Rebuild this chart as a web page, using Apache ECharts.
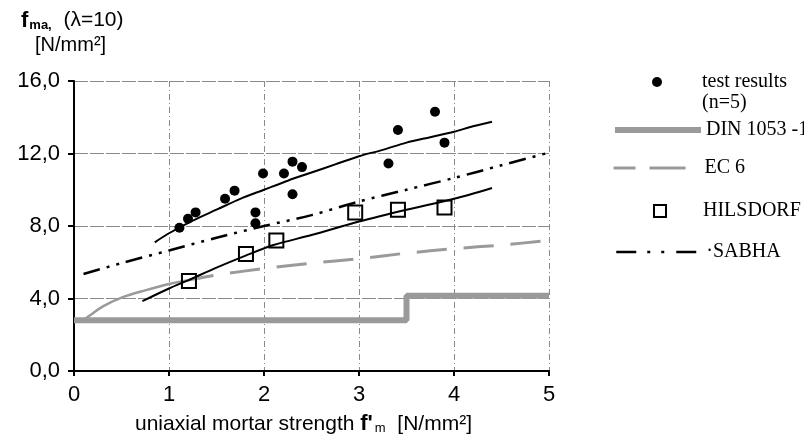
<!DOCTYPE html>
<html>
<head>
<meta charset="utf-8">
<script src="https://cdn.jsdelivr.net/npm/echarts@6/dist/echarts.min.js"></script>
<style>
  html, body { margin: 0; padding: 0; background: #fff; }
  #chart { width: 804px; height: 440px; }
</style>
</head>
<body>
<div id="chart"></div>
<script>
// test results (n=5)
const testX = [1.11, 1.20, 1.28, 1.59, 1.69, 1.91, 1.91, 1.99, 2.21, 2.30, 2.40, 2.30, 3.31, 3.41, 3.80, 3.90]
const testY = [7.9, 8.4, 8.75, 9.5, 9.95, 8.75, 8.15, 10.9, 10.9, 11.55, 11.25, 9.75, 11.45, 13.3, 14.3, 12.6]

// regression curve through test results
const fitTestX = [0.85, 1.0, 1.25, 1.5, 1.75, 2.0, 2.25, 2.5, 2.75, 3.0, 3.25, 3.5, 3.75, 4.0, 4.2, 4.4]
const fitTestY = [7.1, 7.6, 8.3, 8.9, 9.5, 10.0, 10.5, 10.95, 11.4, 11.85, 12.2, 12.6, 12.9, 13.2, 13.5, 13.75]

// HILSDORF
const hilsX = [1.21, 1.81, 2.13, 2.96, 3.41, 3.90]
const hilsY = [4.97, 6.45, 7.2, 8.75, 8.9, 9.02]
const fitHilsX = [0.72, 1.0, 1.2, 1.5, 1.8, 2.1, 2.5, 3.0, 3.5, 4.0, 4.4]
const fitHilsY = [3.85, 4.55, 5.0, 5.7, 6.35, 6.95, 7.5, 8.25, 8.9, 9.5, 10.1]

// DIN 1053 -1
const dinX = [0, 3.5, 3.5, 5.0]
const dinY = [2.8, 2.8, 4.15, 4.15]

// EC 6
const ecX = [0.1, 0.15, 0.3, 0.5, 0.75, 1.0, 1.3]
const ecY = [2.8, 3.0, 3.55, 4.05, 4.45, 4.8, 5.1]
const ecDashX = [1.3, 1.5, 2.0, 2.5, 3.0, 3.5, 4.0, 4.5, 5.0]
const ecDashY = [5.1, 5.3, 5.65, 5.95, 6.2, 6.5, 6.75, 6.95, 7.2]

// SABHA
const sabhaX = [0.1, 0.5, 1.0, 1.5, 2.0, 2.5, 3.0, 3.5, 4.0, 4.5, 5.0]
const sabhaY = [5.35, 5.95, 6.65, 7.35, 8.0, 8.6, 9.35, 10.0, 10.65, 11.35, 12.05]

const xTicks = [0, 1, 2, 3, 4, 5]
const yTicks = [0, 4, 8, 12, 16]

const zip = (xs, ys) => xs.map((x, i) => [x, ys[i]])

const sans = 'Liberation Sans'
const serif = 'Liberation Serif'
const gray = '#9a9a9a'
const sabhaDash = [17, 7, 3, 7, 3, 7]

const legendText = { fontFamily: serif, fontSize: 20, color: '#000' }
const noSymbol = { opacity: 0 }

const chart = echarts.init(document.getElementById('chart'))
chart.setOption({
  animation: false,
  backgroundColor: '#fff',
  title: [
    {
      left: 16, top: 4,
      text: '{b|f}{s|ma,}  (λ=10)',
      textStyle: {
        fontFamily: sans, fontSize: 21, color: '#000', fontWeight: 'normal',
        rich: {
          b: { fontFamily: sans, fontSize: 22, fontWeight: 'bold', color: '#000' },
          s: { fontFamily: sans, fontSize: 13, fontWeight: 'bold', color: '#000', padding: [10, 0, 0, 1] }
        }
      }
    },
    {
      left: 30, top: 30,
      text: '[N/mm²]',
      textStyle: { fontFamily: sans, fontSize: 20, color: '#000', fontWeight: 'normal' }
    }
  ],
  graphic: [
    { type: 'text', left: 702, top: 93, style: { text: '(n=5)', font: '20px "Liberation Serif"', fill: '#000' } }
  ],
  legend: [
    {
      left: 652, top: 72, padding: 0, itemWidth: 10, itemHeight: 10,
      data: [{ name: 'test results', icon: 'circle' }],
      textStyle: Object.assign({ padding: [0, 0, 0, 35] }, legendText)
    },
    {
      left: 612, top: 120, padding: 0, itemWidth: 86, itemHeight: 6,
      data: [{ name: 'DIN 1053 -1', itemStyle: noSymbol, lineStyle: { color: gray, width: 6 } }],
      textStyle: legendText
    },
    {
      left: 612, top: 158, padding: 0, itemWidth: 86, itemHeight: 6,
      data: [{ name: 'EC 6', itemStyle: noSymbol, lineStyle: { color: gray, width: 3, type: [36, 14] } }],
      textStyle: legendText
    },
    {
      left: 653, top: 201, padding: 0, itemWidth: 12, itemHeight: 12,
      data: [{ name: 'HILSDORF', icon: 'rect' }],
      textStyle: Object.assign({ padding: [0, 0, 0, 32] }, legendText)
    },
    {
      left: 614, top: 242, padding: 0, itemWidth: 86, itemHeight: 6,
      data: [{ name: 'SABHA', itemStyle: noSymbol, lineStyle: { color: '#000', width: 2.5, type: [3, 12, 20, 11, 3, 11] } }],
      formatter: '·{name}',
      textStyle: legendText
    }
  ],
  grid: { left: 74, right: 255, top: 81, bottom: 67 },
  xAxis: {
    type: 'value',
    min: 0, max: 5, interval: 1,
    name: 'uniaxial mortar strength {b|f\'}{s|m}  [N/mm²]',
    nameLocation: 'middle',
    nameGap: 42,
    nameTextStyle: {
      fontFamily: sans, fontSize: 21, color: '#000', padding: [0, 16, 0, 0],
      rich: {
        b: { fontFamily: sans, fontSize: 22, fontWeight: 'bold', color: '#000' },
        s: { fontFamily: sans, fontSize: 13, color: '#000', padding: [8, 0, 0, 2] }
      }
    },
    axisLine: { lineStyle: { color: '#000', width: 2 } },
    axisTick: { length: 5, lineStyle: { color: '#000', width: 2 } },
    axisLabel: {
      fontFamily: sans, fontSize: 22, color: '#000', margin: 13,
      customValues: xTicks
    },
    splitLine: { show: true, lineStyle: { color: '#8a8a8a', width: 1, type: [6, 3, 1, 3] } }
  },
  yAxis: {
    type: 'value',
    min: 0, max: 16, interval: 4,
    axisLine: { show: true, lineStyle: { color: '#000', width: 2 } },
    axisTick: { show: true, length: 6, lineStyle: { color: '#000', width: 2 } },
    axisLabel: {
      fontFamily: sans, fontSize: 22, color: '#000', margin: 14,
      customValues: yTicks,
      formatter: v => v.toFixed(1).replace('.', ',')
    },
    splitLine: { show: true, lineStyle: { color: '#8a8a8a', width: 1, type: [14, 2] } }
  },
  series: [
    {
      name: 'DIN 1053 -1', type: 'line', data: zip(dinX, dinY),
      showSymbol: false, symbol: 'none',
      lineStyle: { color: gray, width: 6 }, z: 2
    },
    {
      name: 'EC 6', type: 'line', data: zip(ecDashX, ecDashY),
      showSymbol: false, symbol: 'none', smooth: 0.3,
      lineStyle: { color: gray, width: 3, type: [30, 17], dashOffset: 14 }, z: 2
    },
    {
      name: 'EC 6', type: 'line', data: zip(ecX, ecY),
      showSymbol: false, symbol: 'none', smooth: 0.3,
      lineStyle: { color: gray, width: 2.5 }, z: 2
    },
    {
      name: 'SABHA', type: 'line', data: zip(sabhaX, sabhaY),
      showSymbol: false, symbol: 'none', smooth: 0.3,
      lineStyle: { color: '#000', width: 2.5, type: sabhaDash }, z: 3
    },
    {
      name: 'fit test', type: 'line', data: zip(fitTestX, fitTestY),
      showSymbol: false, symbol: 'none', smooth: 0.3,
      lineStyle: { color: '#000', width: 2 }, z: 3
    },
    {
      name: 'fit HILSDORF', type: 'line', data: zip(fitHilsX, fitHilsY),
      showSymbol: false, symbol: 'none', smooth: 0.3,
      lineStyle: { color: '#000', width: 2 }, z: 3
    },
    {
      name: 'HILSDORF', type: 'scatter', data: zip(hilsX, hilsY),
      symbol: 'rect', symbolSize: 14,
      itemStyle: { color: 'rgba(255,255,255,0)', borderColor: '#000', borderWidth: 2, opacity: 1 }, z: 4
    },
    {
      name: 'test results', type: 'scatter', data: zip(testX, testY),
      symbol: 'circle', symbolSize: 10,
      itemStyle: { color: '#000', opacity: 1 }, z: 5
    }
  ]
})
</script>
</body>
</html>
